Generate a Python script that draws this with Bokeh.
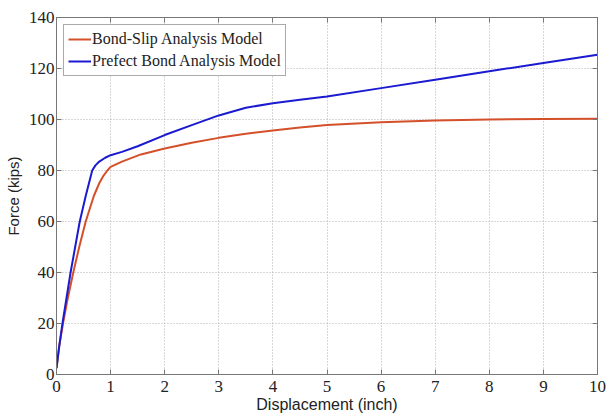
from bokeh.plotting import figure
from bokeh.models import Legend, LegendItem, LinearAxis, Range1d, FixedTicker
from bokeh.embed import file_html
from bokeh.resources import INLINE

# Data
bond_slip_x = [0, 0.05, 0.12, 0.2, 0.31, 0.42, 0.54, 0.69, 0.79, 0.87, 0.94, 1.0, 1.21, 1.56, 2.0, 2.5, 3.0, 3.5, 4.0, 4.5, 5.0, 6.0, 7.0, 8.0, 9.0, 10.0]
bond_slip_y = [2.5, 11, 20, 29, 40, 50, 60, 70, 75, 78, 80, 81.4, 83.5, 86.3, 88.6, 90.9, 92.8, 94.4, 95.7, 96.9, 97.8, 98.9, 99.6, 100.0, 100.2, 100.3]
perfect_x = [0, 0.05, 0.11, 0.26, 0.43, 0.54, 0.66, 0.72, 0.79, 0.9, 1.0, 1.21, 1.5, 2.0, 2.5, 3.0, 3.5, 4.0, 4.5, 5.0, 6.0, 7.0, 8.0, 9.0, 10.0]
perfect_y = [2.5, 11, 20, 40, 60, 70, 80, 82, 83.5, 85, 86, 87.3, 89.5, 93.9, 97.8, 101.6, 104.6, 106.4, 107.7, 109.0, 112.3, 115.6, 118.9, 122.2, 125.4]
x_ticks = [0, 1, 2, 3, 4, 5, 6, 7, 8, 9, 10]
y_ticks = [0, 20, 40, 60, 80, 100, 120, 140]
legend_labels = ["Bond-Slip Analysis Model", "Prefect Bond Analysis Model"]

p = figure(frame_width=541, frame_height=357, output_backend="svg", toolbar_location=None,
           x_range=Range1d(0, 10), y_range=Range1d(0, 140),
           min_border_left=56, min_border_top=17, min_border_right=9, min_border_bottom=42,
           x_axis_label="Displacement (inch)", y_axis_label="Force (kips)")
p.background_fill_color = "white"
p.border_fill_color = "white"
p.outline_line_color = "#777777"
p.outline_line_width = 1

for ax, ticks in ((p.xaxis[0], x_ticks), (p.yaxis[0], y_ticks)):
    ax.ticker = FixedTicker(ticks=ticks)
    ax.major_tick_in = 5
    ax.major_tick_out = 0
    ax.minor_tick_line_color = None
    ax.axis_line_color = "#777777"
    ax.major_tick_line_color = "#777777"
    ax.major_label_text_font = "Liberation Serif"
    ax.major_label_text_font_size = "17px"
    ax.major_label_text_color = "#222222"
    ax.axis_label_text_font = "Liberation Sans"
    ax.axis_label_text_font_style = "normal"
    ax.axis_label_text_color = "#222222"
p.xaxis[0].axis_label_text_font_size = "16px"
p.xaxis[0].axis_label_standoff = 1
p.xaxis[0].major_label_standoff = 6
p.yaxis[0].axis_label_text_font_size = "15px"
p.yaxis[0].axis_label_standoff = 4
p.yaxis[0].major_label_standoff = 2

top = LinearAxis(ticker=FixedTicker(ticks=x_ticks), major_label_text_font_size="0px",
                 major_label_text_color=None,
                 major_tick_in=5, major_tick_out=0, minor_tick_line_color=None,
                 axis_line_color="#777777", major_tick_line_color="#777777", major_label_standoff=0)
right = LinearAxis(ticker=FixedTicker(ticks=y_ticks), major_label_text_font_size="0px",
                   major_label_text_color=None,
                   major_tick_in=5, major_tick_out=0, minor_tick_line_color=None,
                   axis_line_color="#777777", major_tick_line_color="#777777", major_label_standoff=0)
p.add_layout(top, "above")
p.add_layout(right, "right")

p.xgrid.ticker = FixedTicker(ticks=x_ticks)
p.ygrid.ticker = FixedTicker(ticks=y_ticks)
for g in (p.xgrid[0], p.ygrid[0]):
    g.grid_line_color = "#b0b0b0"
    g.grid_line_dash = "1 2"
    g.grid_line_width = 1

r1 = p.line(bond_slip_x, bond_slip_y, line_color="#d4502a", line_width=2)
r2 = p.line(perfect_x, perfect_y, line_color="#1a1ad0", line_width=2)

legend = Legend(items=[LegendItem(label=legend_labels[0], renderers=[r1]),
                       LegendItem(label=legend_labels[1], renderers=[r2])],
                location="top_left")
legend.label_text_font = "Liberation Serif"
legend.label_text_font_size = "16px"
legend.label_text_color = "#222222"
legend.glyph_width = 23
legend.glyph_height = 20
legend.label_standoff = 1
legend.spacing = 2
legend.padding = 4
legend.margin = 7
legend.border_line_color = "#555555"
legend.border_line_width = 1
legend.background_fill_alpha = 1
p.add_layout(legend)

open("out.html", "w").write(file_html(p, INLINE))
